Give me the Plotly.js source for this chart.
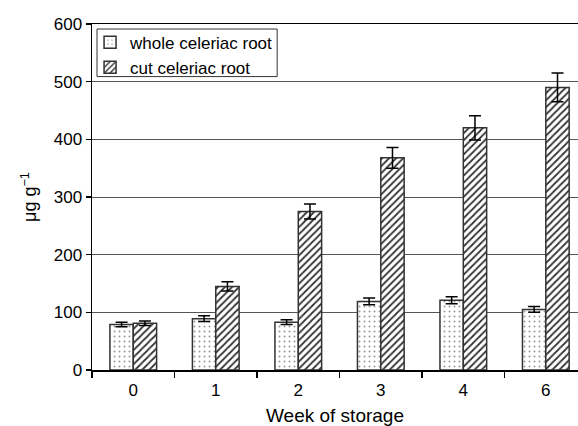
<!DOCTYPE html>
<html><head><meta charset="utf-8">
<script src="https://cdn.plot.ly/plotly-3.0.1.min.js"></script>
<style>html,body{margin:0;padding:0;background:#fff}</style>
</head><body>
<div id="chart" style="width:578px;height:426px"></div>
<script>
const weeks = ["0", "1", "2", "3", "4", "6"];
const wholeRoot = [79, 89, 83, 119, 121, 105];
const wholeErr = [4, 5, 4, 6, 6, 5];
const cutRoot = [81, 145, 275, 368, 420, 490];
const cutErr = [4, 8, 13, 18, 21, 25];
const seriesNames = ["whole celeriac root", "cut celeriac root"];

const traces = [
  {
    type: "bar", x: weeks, y: wholeRoot, name: seriesNames[0],
    error_y: {type: "data", array: wholeErr, visible: true, color: "#000", thickness: 1.5, width: 6},
    marker: {color: "#fff", line: {color: "#333", width: 1.5},
      pattern: {shape: ".", fgcolor: "#999", bgcolor: "#fff", size: 5, solidity: 0.12}}
  },
  {
    type: "bar", x: weeks, y: cutRoot, name: seriesNames[1],
    error_y: {type: "data", array: cutErr, visible: true, color: "#000", thickness: 1.5, width: 6},
    marker: {color: "#fff", line: {color: "#333", width: 1.5},
      pattern: {shape: "/", fgcolor: "#333", bgcolor: "#fff", size: 5, solidity: 0.35}}
  }
];

const layout = {
  width: 578, height: 426,
  margin: {l: 92, r: 0, t: 24, b: 56, pad: 0},
  paper_bgcolor: "#fff", plot_bgcolor: "#fff",
  font: {family: "Liberation Sans, Arial, sans-serif", size: 17, color: "#000"},
  barmode: "group", bargap: 0.434, bargroupgap: 0,
  showlegend: true,
  legend: {x: -0.004, y: 0.998, xanchor: "left", yanchor: "top",
    bgcolor: "rgba(0,0,0,0)", borderwidth: 0,
    font: {size: 17}, itemwidth: 30, tracegroupgap: 0},
  shapes: [
    {type: "rect", xref: "paper", yref: "paper", x0: 0.0103, x1: 0.381, y0: 0.848, y1: 0.9855,
     line: {color: "#333", width: 1}, fillcolor: "#fff", layer: "below"}
  ],
  xaxis: {
    type: "category", range: [-0.5, 5.39], showline: true, linecolor: "#000", linewidth: 1.5,
    mirror: true, ticks: "outside", ticklen: 6, tickcolor: "#000", tickwidth: 1.5,
    tickson: "boundaries", showgrid: false, tickfont: {size: 17}, ticklabelstandoff: 4,
    title: {text: "Week of storage", font: {size: 19}, standoff: 15}
  },
  yaxis: {
    range: [0, 600], dtick: 100, showline: true, linecolor: "#000", linewidth: 1.5,
    ticks: "outside", ticklen: 5, tickcolor: "#000", tickwidth: 1.5,
    showgrid: true, gridcolor: "#555", gridwidth: 1, zeroline: false,
    tickfont: {size: 17},
    title: {text: "μg g<sup>−1</sup>", font: {size: 18}, standoff: 12}
  }
};

Plotly.newPlot("chart", traces, layout, {displayModeBar: false, staticPlot: true});
</script>
</body></html>
